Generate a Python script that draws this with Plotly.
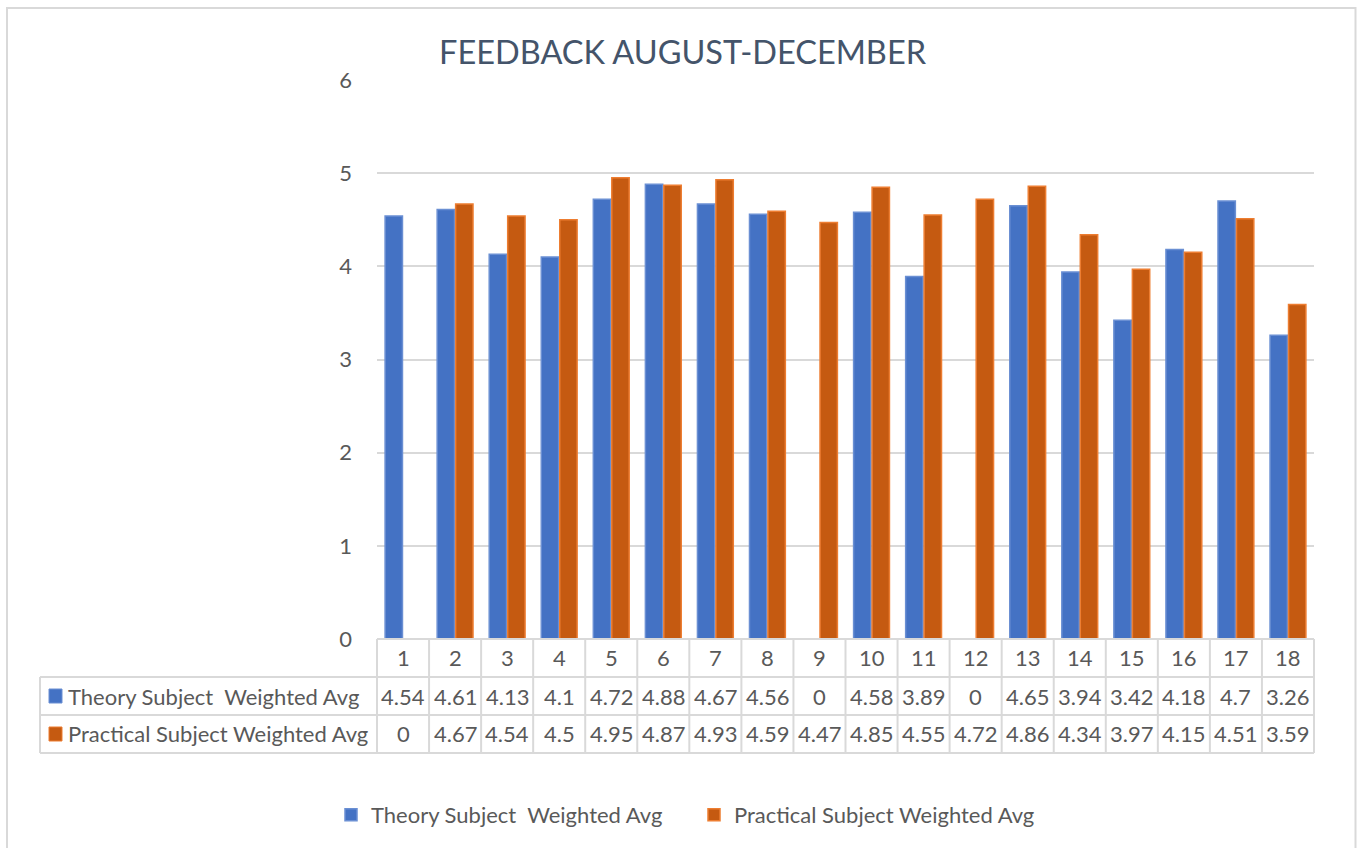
import plotly.graph_objects as go

categorias = list(range(1, 19))
teoria = [4.54, 4.61, 4.13, 4.1, 4.72, 4.88, 4.67, 4.56, 0, 4.58, 3.89, 0, 4.65, 3.94, 3.42, 4.18, 4.7, 3.26]
practica = [0, 4.67, 4.54, 4.5, 4.95, 4.87, 4.93, 4.59, 4.47, 4.85, 4.55, 4.72, 4.86, 4.34, 3.97, 4.15, 4.51, 3.59]
nombre_teoria = 'Theory Subject  Weighted Avg'
nombre_practica = 'Practical Subject Weighted Avg'
titulo = 'FEEDBACK AUGUST-DECEMBER'

AZUL = '#4472C4'
AZUL_BORDE = '#6A8FD3'
NARANJA = '#C55A11'
NARANJA_BORDE = '#ED7D31'
GRIS = '#595959'
LINEA = '#D9D9D9'
FUENTE = 'Lato, Open Sans, sans-serif'

W, H = 1357, 848
ML, MR, MT, MB = 377, 43, 80, 209
PW = W - ML - MR
PH = H - MT - MB


def px_x(p):
    return (p - ML) / PW


def px_y(p):
    return (H - MB - p) / PH


fig = go.Figure()
fig.add_trace(go.Bar(x=categorias, y=teoria, name=nombre_teoria,
                     marker=dict(color=AZUL, line=dict(color=AZUL_BORDE, width=1.5))))
fig.add_trace(go.Bar(x=categorias, y=practica, name=nombre_practica,
                     marker=dict(color=NARANJA, line=dict(color=NARANJA_BORDE, width=1.5))))

# tabla de datos bajo el gráfico (estilo Excel)
shapes = []
borde = dict(color=LINEA, width=2)
fila_top, fila1, fila2, fila_fin = 639, 677, 715, 753
shapes.append(dict(type='line', xref='paper', yref='paper', x0=0, x1=1,
                   y0=px_y(fila_top), y1=px_y(fila_top), line=borde))
for fy in (fila1, fila2, fila_fin):
    shapes.append(dict(type='line', xref='paper', yref='paper', x0=px_x(40), x1=1,
                       y0=px_y(fy), y1=px_y(fy), line=borde))
shapes.append(dict(type='line', xref='paper', yref='paper', x0=px_x(40), x1=px_x(40),
                   y0=px_y(fila1), y1=px_y(fila_fin), line=borde))
n = len(categorias)
for k in range(n + 1):
    shapes.append(dict(type='line', xref='paper', yref='paper', x0=k / n, x1=k / n,
                       y0=px_y(fila_top), y1=px_y(fila_fin), line=borde))
# cuadritos de leyenda dentro de la tabla
for fy, col, bc in ((696, AZUL, AZUL_BORDE), (734, NARANJA, NARANJA_BORDE)):
    shapes.append(dict(type='rect', xref='paper', yref='paper',
                       x0=px_x(49), x1=px_x(62), y0=px_y(fy - 7), y1=px_y(fy + 7),
                       fillcolor=col, line=dict(color=bc, width=1)))
# marco del gráfico
shapes.append(dict(type='rect', xref='paper', yref='paper',
                   x0=px_x(7), x1=px_x(1355.5), y0=px_y(900), y1=px_y(8),
                   line=dict(color=LINEA, width=2), layer='below'))

annotations = []
fnt = dict(family=FUENTE, size=22, color=GRIS)
for i, c in enumerate(categorias):
    for fy, txt in ((658, str(c)), (696, f'{teoria[i]:g}'), (734, f'{practica[i]:g}')):
        annotations.append(dict(x=c, y=px_y(fy), xref='x', yref='paper', text=txt,
                                showarrow=False, xanchor='center', yanchor='middle', font=fnt))
annotations.append(dict(x=px_x(66), y=px_y(696), xref='paper', yref='paper', text=nombre_teoria,
                        showarrow=False, xanchor='left', yanchor='middle', font=fnt))
annotations.append(dict(x=px_x(66), y=px_y(734), xref='paper', yref='paper', text=nombre_practica,
                        showarrow=False, xanchor='left', yanchor='middle', font=fnt))

fig.update_layout(
    width=W, height=H,
    margin=dict(l=ML, r=MR, t=MT, b=MB, pad=0),
    paper_bgcolor='white', plot_bgcolor='white',
    title=dict(text=titulo, x=0.503, xref='container', xanchor='center',
               y=1 - 53 / H, yref='container', yanchor='middle',
               font=dict(family=FUENTE, size=32.5, color='#44546A')),
    barmode='group', bargap=0.29, bargroupgap=0.06,
    showlegend=True,
    legend=dict(orientation='h', x=px_x(331), xanchor='left', y=px_y(815), yanchor='middle',
                font=dict(family=FUENTE, size=22, color=GRIS), itemwidth=30,
                entrywidth=318, entrywidthmode='pixels', traceorder='normal'),
    xaxis=dict(range=[0.5, n + 0.5], showticklabels=False, showgrid=False,
               zeroline=False, showline=False, ticks=''),
    yaxis=dict(range=[0, 6], dtick=1, showgrid=True, gridcolor=LINEA, gridwidth=2,
               zeroline=False, showline=False, ticks='', ticklabelstandoff=24,
               tickfont=dict(family=FUENTE, size=22, color=GRIS)),
    shapes=shapes, annotations=annotations,
)

fig.write_html('out.html', config={'displayModeBar': False},
               post_script="document.body.style.margin='0px';")
